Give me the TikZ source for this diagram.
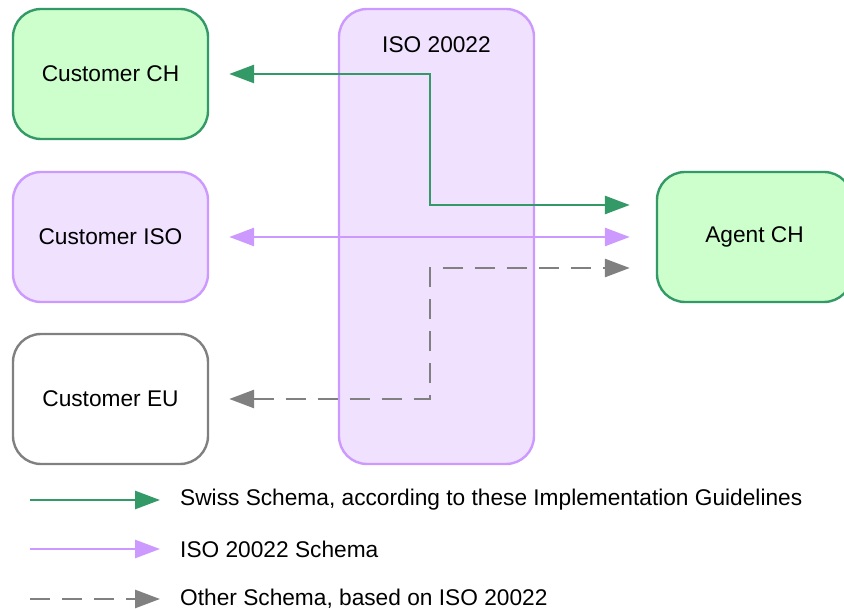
\documentclass[tikz,border=0pt]{standalone}
\usepackage{fontspec}
\setmainfont{Liberation Sans}
\usetikzlibrary{calc,arrows.meta}
\usepackage{xcolor}
\definecolor{chFill}{HTML}{CCFFCC}
\definecolor{chLine}{HTML}{339966}
\definecolor{isoFill}{HTML}{F0E1FF}
\definecolor{isoLine}{HTML}{CC99FF}
\definecolor{otherLine}{HTML}{808080}
\tikzset{
  party/.style={line width=2.4pt, rounded corners=28pt, minimum width=195pt,
    minimum height=130pt, font=\fontsize{22.7}{27}\selectfont},
  schemaTip/.style={-{Triangle[length=25pt,width=18pt]}},
  bothTips/.style={{Triangle[length=25pt,width=18pt]}-{Triangle[length=25pt,width=18pt]}},
  swiss/.style={line width=2.8pt, chLine},
  isoschema/.style={line width=2.8pt, isoLine},
  other/.style={line width=2.8pt, otherLine, dash pattern=on 20pt off 12pt},
  legendtext/.style={anchor=west, inner sep=0pt, font=\fontsize{22.7}{27}\selectfont}
}
\begin{document}
\begin{tikzpicture}[x=1pt,y=-1pt]
		\useasboundingbox (0,0) rectangle (844,609);
		\clip (0,0) rectangle (844,609); % Agent CH runs off the right edge

		% the ISO 20022 column behind the arrows
		\node[party, fill=isoFill, draw=isoLine, minimum height=455pt] (isoCol) at (436.5,236.5) {};
		\node[font=\fontsize{22.7}{27}\selectfont] (isoTitle) at (436.5,45) {ISO 20022};

		\node[party, fill=chFill, draw=chLine] (custCH) at (110.5,74) {Customer CH};
		\node[party, fill=isoFill, draw=isoLine] (custISO) at (110.5,237) {Customer ISO};
		\node[party, fill=white, draw=otherLine] (custEU) at (110.5,399) {Customer EU};
		\node[party, fill=chFill, draw=chLine] (agentCH) at (754.5,237) {Agent CH};

		\coordinate (bendX) at (430,0); % where the elbows sit
		\coordinate (swissIn) at ([xshift=20pt]custCH.east);
		\coordinate (swissOut) at ([xshift=-26pt,yshift=32pt]agentCH.west);
		\coordinate (otherIn) at ([xshift=20pt]custEU.east);
		\coordinate (otherOut) at ([xshift=-26pt,yshift=-31pt]agentCH.west);

		\draw[swiss, bothTips] (swissIn) -- (swissIn -| bendX) -- (bendX |- swissOut) -- (swissOut);
		\draw[isoschema, bothTips] ([xshift=20pt]custISO.east) -- ([xshift=-26pt]agentCH.west);
		\draw[other, bothTips] (otherIn) -- (otherIn -| bendX) -- (bendX |- otherOut) -- (otherOut);

		% legend
		\coordinate (legSwiss) at (30,500);
		\coordinate (legIso) at (30,549);
		\coordinate (legOther) at (30,599);
		\draw[swiss, schemaTip] (legSwiss) -- ++(130,0);
		\draw[isoschema, schemaTip] (legIso) -- ++(130,0);
		\draw[other, schemaTip] (legOther) -- ++(130,0);
		\node[legendtext] (legSwissText) at (180,500) {Swiss Schema, according to these Implementation Guidelines};
		\node[legendtext] (legIsoText) at (180,549) {ISO 20022 Schema};
		\node[legendtext] (legOtherText) at (180,599) {Other Schema, based on ISO 20022};
	  \end{tikzpicture}
\end{document}
